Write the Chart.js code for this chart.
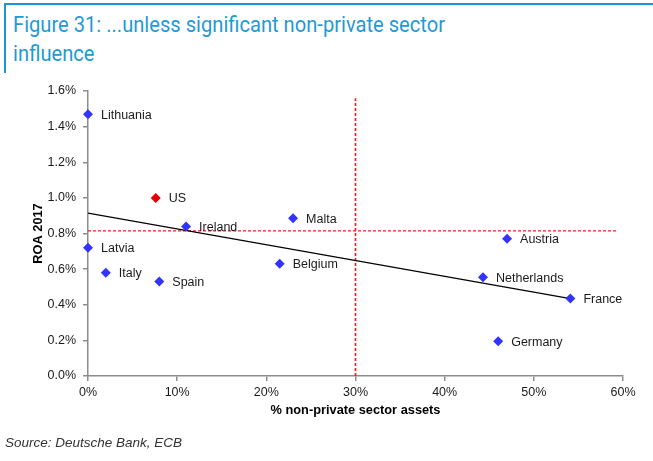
<!DOCTYPE html>
<html>
<head>
<meta charset="utf-8">
<script src="https://cdn.jsdelivr.net/npm/chart.js@4.4.1/dist/chart.umd.min.js"></script>
<style>
  body { margin: 0; background: #fff; font-family: "Liberation Sans", Arial, sans-serif; }
  #wrap { position: relative; width: 653px; height: 461px; overflow: hidden; }
  #head { position: absolute; left: 4px; top: 3px; width: 649px; height: 68px;
          border-top: 2px solid #1a96d4; border-left: 2px solid #1a96d4; }
  #title { position: absolute; left: 7px; top: 5px; font-family: Roboto, "Liberation Sans", sans-serif; font-weight: 400;
           font-size: 22.5px; line-height: 29px; color: #1f9ad6; white-space: nowrap; transform-origin: 0 0; }
  #src { position: absolute; left: 5px; top: 435px; font-size: 13.5px; font-style: italic; color: #333; }
  canvas { position: absolute; left: 0; top: 0; }
</style>
</head>
<body>
<div id="wrap">
  <div id="head"><div id="title"><span id="t1">Figure 31: ...unless significant non-private sector</span><br>influence</div></div>
  <canvas id="roaChart" width="653" height="461"></canvas>
  <div id="src">Source: Deutsche Bank, ECB</div>
</div>
<script>
// data
var countries = ["Lithuania", "US", "Ireland", "Malta", "Latvia", "Italy", "Spain", "Belgium", "Austria", "Netherlands", "France", "Germany"];
var nonPrivate = [0, 7.6, 11.0, 23.0, 0, 2.0, 8.0, 21.5, 47.0, 44.3, 54.1, 46.0];   // % non-private sector assets
var roa2017 = [1.47, 1.00, 0.84, 0.885, 0.72, 0.58, 0.53, 0.63, 0.77, 0.555, 0.435, 0.195]; // ROA 2017, %
var trendX = [0, 54.1];
var trendY = [0.914, 0.434];
var avgRoaX = [0, 59.4];
var avgRoaY = [0.815, 0.815];
var avgNpX = [30, 30];
var avgNpY = [0, 1.56];

// squeeze the heading to the condensed width of the original
var t1 = document.getElementById("t1");
var w = t1.getBoundingClientRect().width;
if (w > 0) {
    document.getElementById("title").style.transform = "scaleX(" + (432 / w) + ")";
}

function pairs(xs, ys) {
    return xs.map(function (x, i) { return { x: x, y: ys[i] }; });
}

var pointColors = countries.map(function (c) { return c === "US" ? "#e60000" : "#3333ff"; });

// country names next to the markers
var pointLabels = {
    id: 'pointLabels',
    afterDatasetsDraw: function (chart) {
        var meta = chart.getDatasetMeta(0);
        var ctx = chart.ctx;
        ctx.save();
        ctx.font = '12.5px "Liberation Sans", Arial, sans-serif';
        ctx.fillStyle = '#1a1a1a';
        ctx.textBaseline = 'middle';
        meta.data.forEach(function (pt, i) {
            ctx.fillText(countries[i], pt.x + 13, pt.y + 1);
        });
        ctx.restore();
    }
};

try {
    var ctx = document.getElementById("roaChart");
    if (ctx) {
        var myChart = new Chart(ctx, {
            type: 'scatter',
            data: {
                datasets: [
                    {
                        label: "Countries",
                        data: pairs(nonPrivate, roa2017),
                        pointStyle: 'rectRot',
                        pointRadius: 5,
                        pointBackgroundColor: pointColors,
                        pointBorderColor: pointColors,
                        pointBorderWidth: 0,
                        clip: false,
                        order: 0
                    },
                    {
                        label: "Trend",
                        data: pairs(trendX, trendY),
                        showLine: true,
                        borderColor: "#000",
                        borderWidth: 1.2,
                        pointRadius: 0,
                        order: 1
                    },
                    {
                        label: "Avg ROA",
                        data: pairs(avgRoaX, avgRoaY),
                        showLine: true,
                        borderColor: "#ff1a1a",
                        borderWidth: 1.3,
                        borderDash: [3, 2],
                        pointRadius: 0,
                        order: 2
                    },
                    {
                        label: "Avg non-private",
                        data: pairs(avgNpX, avgNpY),
                        showLine: true,
                        borderColor: "#ff1a1a",
                        borderWidth: 1.6,
                        borderDash: [3, 2],
                        pointRadius: 0,
                        order: 2
                    }
                ]
            },
            options: {
                responsive: false,
                animation: false,
                layout: { padding: { left: 25, top: 91, right: 30, bottom: 40 } },
                plugins: {
                    legend: { display: false },
                    tooltip: { enabled: false }
                },
                scales: {
                    x: {
                        type: 'linear',
                        min: 0, max: 60,
                        afterFit: function (s) { s.height = 45; },
                        ticks: {
                            stepSize: 10,
                            padding: 4,
                            color: '#1a1a1a',
                            font: { family: '"Liberation Sans", Arial, sans-serif', size: 12.5 },
                            callback: function (v) { return v + '%'; }
                        },
                        grid: { drawOnChartArea: false, color: '#8c8c8c', tickLength: 5, lineWidth: 1.5 },
                        border: { color: '#8c8c8c', width: 1.5 },
                        title: {
                            display: true,
                            text: '% non-private sector assets',
                            color: '#000',
                            padding: { top: 0, bottom: 3 },
                            font: { family: '"Liberation Sans", Arial, sans-serif', size: 12.8, weight: 'bold' }
                        }
                    },
                    y: {
                        type: 'linear',
                        min: 0, max: 1.6,
                        afterFit: function (s) { s.width = 63; },
                        ticks: {
                            stepSize: 0.2,
                            padding: 7,
                            color: '#1a1a1a',
                            font: { family: '"Liberation Sans", Arial, sans-serif', size: 12.5 },
                            callback: function (v) { return v.toFixed(1) + '%'; }
                        },
                        grid: { drawOnChartArea: false, color: '#8c8c8c', tickLength: 5, lineWidth: 1.5 },
                        border: { color: '#8c8c8c', width: 1.5 },
                        title: {
                            display: true,
                            text: 'ROA 2017',
                            color: '#000',
                            padding: { top: 6, bottom: 0 },
                            font: { family: '"Liberation Sans", Arial, sans-serif', size: 12.8, weight: 'bold' }
                        }
                    }
                }
            },
            plugins: [pointLabels]
        });
    }
} catch (error) {
    console.log(error);
}
</script>
</body>
</html>
